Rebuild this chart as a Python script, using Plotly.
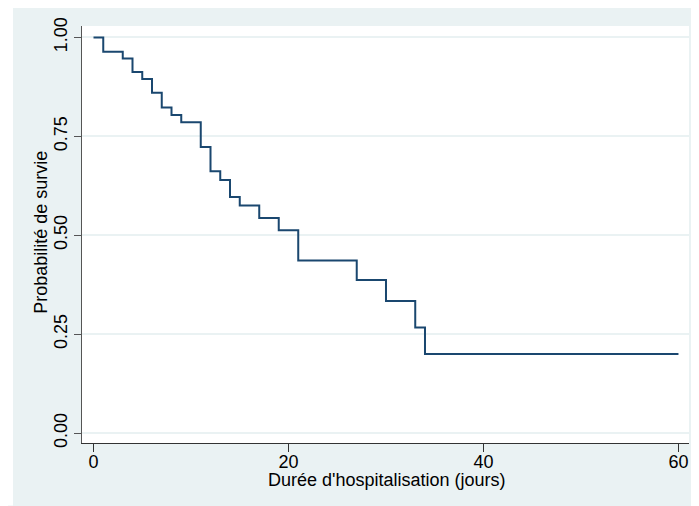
import plotly.graph_objects as go

# Kaplan-Meier estimate
temps = [0, 1, 3, 4, 5, 6, 7, 8, 9, 11, 12, 13, 14, 15, 17, 19, 21, 27, 30, 33, 34, 60]
survie = [1.0, 0.964, 0.947, 0.913, 0.895, 0.860, 0.823, 0.804, 0.786, 0.723,
          0.662, 0.640, 0.597, 0.575, 0.544, 0.513, 0.436, 0.387, 0.334, 0.267, 0.200, 0.200]

x_ticks = [0, 20, 40, 60]
y_ticks = [0.0, 0.25, 0.5, 0.75, 1.0]
y_ticklabels = ["0.00", "0.25", "0.50", "0.75", "1.00"]

x_title = "Durée d'hospitalisation (jours)"
y_title = "Probabilité de survie"

BG = "#eaf2f3"
LINE = "#1a476f"
FONT = "Liberation Sans, Arial, sans-serif"

fig = go.Figure()
fig.add_trace(go.Scatter(
    x=temps, y=survie, mode="lines", line_shape="hv",
    line=dict(color=LINE, width=2), showlegend=False, hoverinfo="skip",
))

# figure is drawn at an 8px page offset
W, H = 691, 498
ml, mr, mt, mb = 74, 10, 18, 62.5
pw, ph = W - ml - mr, H - mt - mb

def px_x(p):
    return (p - ml) / pw

def px_y(p):
    return (H - mb - p) / ph

# white strip left of the grey background panel
fig.add_shape(type="rect", xref="paper", yref="paper", layer="below",
              x0=px_x(0), x1=px_x(5), y0=px_y(H), y1=px_y(0),
              line_width=0, fillcolor="white")

fig.add_annotation(text=x_title, xref="paper", yref="paper",
                   x=px_x(379), y=px_y(473), xanchor="center", yanchor="middle",
                   showarrow=False, font=dict(size=18))
fig.add_annotation(text=y_title, xref="paper", yref="paper", textangle=-90,
                   x=px_x(33), y=px_y(225), xanchor="center", yanchor="middle",
                   showarrow=False, font=dict(size=18))

fig.update_layout(
    width=W, height=H,
    margin=dict(l=ml, r=mr, t=mt, b=mb, pad=0),
    paper_bgcolor=BG, plot_bgcolor="white",
    font=dict(family=FONT, size=18, color="black"),
    xaxis=dict(
        range=[-1.18, 61.08], tickvals=x_ticks, showgrid=False, zeroline=False,
        showline=True, linecolor="#333", linewidth=1,
        ticks="outside", ticklen=8, tickcolor="#333", tickwidth=1,
        ticklabelstandoff=-6,
        automargin=False,
    ),
    yaxis=dict(
        range=[-0.025, 1.029], tickvals=y_ticks, ticktext=y_ticklabels,
        tickangle=-90, showgrid=True, gridcolor=BG, gridwidth=1.5, zeroline=False,
        showline=True, linecolor="#555", linewidth=1,
        ticks="outside", ticklen=7, tickcolor="#555", tickwidth=1,
        automargin=False,
    ),
)

fig.write_html("out.html")
